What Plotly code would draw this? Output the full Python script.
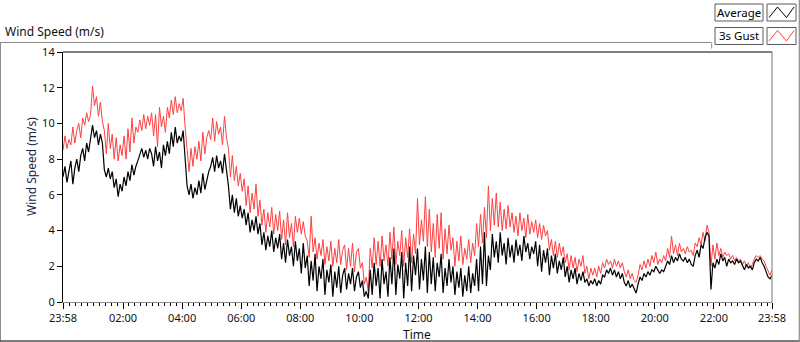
import plotly.graph_objects as go
import pandas as pd

# ---------------- data (one sample every 4 minutes, 23:58 -> 23:58) ----------------
start_time = "2024-01-01 23:58"
n_samples = 361

average = [
    7.0, 7.6, 6.7, 7.4, 7.9, 6.6, 7.5, 8.0, 7.3, 8.2, 8.6, 7.9, 8.9, 8.4, 9.1,
    9.9, 9.2, 9.6, 8.8, 9.4, 8.9, 7.4, 7.0, 7.5, 6.9, 7.3, 6.4, 6.9, 5.9, 6.6,
    6.2, 7.0, 6.5, 7.3, 6.8, 7.7, 7.1, 7.6, 7.9, 8.2, 8.6, 8.1, 8.5, 8.0, 8.6,
    8.3, 7.6, 8.7, 7.9, 8.4, 7.5, 8.8, 8.2, 9.0, 8.3, 9.5, 8.7, 9.8, 8.9, 9.3,
    9.0, 9.6, 8.2, 6.5, 6.0, 6.6, 5.8, 6.4, 6.0, 6.8, 6.1, 7.2, 6.3, 6.9, 7.3,
    7.6, 8.1, 7.3, 8.2, 7.5, 7.9, 7.2, 8.3, 7.4, 6.5, 5.2, 6.0, 5.0, 5.8, 4.8,
    5.4, 4.7, 5.2, 4.3, 5.0, 3.9, 4.6, 4.0, 4.8, 3.8, 4.4, 3.2, 3.9, 2.9, 3.7,
    3.1, 4.0, 2.8, 3.6, 3.0, 3.8, 2.4, 3.3, 2.2, 3.5, 2.6, 3.1, 2.0, 3.4, 2.3,
    3.0, 1.6, 3.3, 1.9, 2.6, 0.9, 2.3, 1.2, 2.7, 0.6, 2.0, 1.3, 2.4, 0.4, 1.8,
    1.1, 2.1, 0.3, 1.7, 0.8, 2.0, 0.5, 1.5, 1.9, 0.7, 1.6, 1.0, 1.9, 0.6, 1.4,
    1.7, 0.8, 1.2, 0.3, 0.6, 0.2, 1.8, 0.4, 2.2, 0.9, 1.9, 0.2, 2.4, 1.0, 1.7,
    0.3, 2.5, 1.0, 3.0, 0.4, 2.1, 1.3, 2.8, 0.2, 2.2, 0.9, 3.1, 0.6, 2.6, 1.5,
    3.0, 0.7, 2.4, 1.2, 3.1, 0.5, 2.8, 1.0, 2.5, 0.6, 2.2, 1.4, 2.7, 0.5, 1.9,
    0.9, 2.4, 1.1, 2.0, 0.4, 1.7, 0.8, 1.9, 0.3, 1.5, 0.6, 2.0, 0.5, 1.6, 0.9,
    2.4, 0.6, 3.1, 1.0, 3.9, 0.9, 2.6, 1.8, 3.8, 2.5, 3.4, 2.2, 3.9, 2.6, 3.3,
    2.1, 3.6, 2.5, 3.2, 2.2, 3.5, 2.6, 3.2, 2.3, 3.7, 2.8, 3.3, 2.4, 3.1, 2.7,
    3.4, 2.0, 3.2, 1.7, 2.9, 2.2, 3.0, 1.5, 2.6, 1.9, 2.7, 1.6, 2.3, 1.8, 2.5,
    1.4, 2.0, 1.1, 1.8, 1.3, 1.9, 1.0, 1.6, 1.2, 1.7, 1.1, 1.3, 0.9, 1.2, 1.0,
    1.3, 0.9, 1.2, 1.0, 1.5, 1.4, 1.8, 1.6, 1.9, 1.5, 1.8, 1.4, 1.7, 1.3, 1.6,
    1.1, 0.9, 1.2, 0.8, 1.0, 0.7, 0.5, 1.0, 1.4, 1.2, 1.6, 1.4, 1.7, 1.5, 1.8,
    1.7, 2.0, 1.8, 1.6, 1.8, 1.7, 2.0, 2.3, 2.1, 2.6, 2.2, 2.5, 2.3, 2.7, 2.4,
    2.3, 2.5, 2.2, 2.4, 2.1, 2.0, 2.6, 2.9, 2.5, 3.2, 3.0, 3.6, 3.9, 3.7, 0.7,
    2.2, 1.9, 2.4, 2.1, 2.7, 2.3, 2.5, 2.0, 2.4, 2.2, 2.3, 2.1, 2.4, 2.2, 2.3,
    2.0, 1.8, 2.1, 1.9, 2.0, 1.8, 2.2, 2.4, 2.3, 2.5, 2.2, 2.0, 1.7, 1.4, 1.3,
    1.5,
]

gust = [
    8.5, 9.3, 8.6, 9.1, 8.8, 9.8, 8.9, 9.6, 10.0, 9.2, 10.3, 9.9, 10.6, 10.1, 10.5,
    12.1, 11.0, 11.5, 10.4, 11.2, 10.1, 9.6, 8.3, 10.0, 8.6, 9.4, 8.0, 9.2, 7.9, 8.8,
    8.2, 9.3, 8.0, 9.7, 8.4, 10.3, 8.9, 9.8, 9.5, 10.2, 9.6, 10.5, 9.7, 10.4, 9.9,
    10.6, 9.3, 10.5, 8.7, 10.9, 9.8, 10.4, 9.5, 10.9, 10.3, 11.3, 10.5, 11.5, 10.6, 11.1,
    10.7, 11.4, 9.8, 8.4, 7.3, 8.6, 7.6, 8.7, 8.0, 9.0, 7.9, 9.5, 8.3, 9.2, 9.6,
    9.1, 10.3, 9.0, 10.1, 9.4, 9.8, 8.8, 10.4, 9.2, 8.6, 7.0, 8.2, 6.8, 7.6, 6.5,
    7.2, 6.2, 6.9, 5.4, 6.5, 5.0, 6.1, 5.2, 6.6, 4.8, 5.7, 4.3, 5.2, 3.9, 5.0,
    4.2, 5.3, 3.8, 4.9, 4.0, 5.1, 3.5, 4.6, 3.2, 5.0, 3.6, 4.4, 3.1, 4.8, 3.9,
    4.7, 3.8, 4.5, 3.7, 3.4, 2.5, 4.8, 2.8, 3.6, 2.4, 3.3, 2.6, 3.5, 2.1, 3.1,
    2.3, 3.4, 2.0, 3.0, 2.2, 3.5, 2.1, 2.9, 3.2, 1.8, 3.0, 2.0, 3.3, 1.7, 2.8,
    3.0, 1.9, 2.2, 1.0, 1.4, 0.6, 3.0, 1.9, 3.6, 2.1, 3.4, 2.0, 3.7, 2.3, 3.2,
    2.0, 3.9, 2.4, 4.2, 2.1, 3.4, 2.6, 4.0, 2.0, 3.6, 2.5, 4.1, 2.2, 3.8, 2.7,
    5.8, 3.2, 4.6, 3.4, 5.9, 3.1, 5.2, 2.8, 4.4, 2.5, 4.9, 3.0, 5.0, 2.4, 4.1,
    2.7, 4.3, 2.9, 3.6, 2.0, 3.4, 2.3, 3.7, 2.1, 3.0, 2.4, 3.5, 2.2, 3.3, 2.6,
    4.4, 3.1, 4.9, 3.3, 5.3, 3.6, 6.5, 4.0, 5.8, 4.3, 6.1, 4.2, 5.6, 4.0, 5.2,
    4.1, 5.4, 4.2, 5.0, 3.9, 4.8, 3.7, 5.0, 4.0, 4.7, 3.6, 4.9, 3.8, 4.5, 3.9,
    4.6, 3.6, 4.4, 3.5, 4.3, 3.7, 4.0, 2.9, 3.5, 2.6, 3.4, 2.5, 3.3, 2.6, 3.1,
    2.2, 2.7, 1.8, 2.6, 1.9, 2.5, 1.7, 2.4, 2.0, 2.6, 1.6, 2.0, 1.3, 1.9, 1.5,
    1.9, 1.4, 2.0, 1.6, 2.2, 1.9, 2.4, 2.1, 2.3, 1.9, 2.4, 2.0, 2.3, 1.9, 2.2,
    1.7, 1.4, 1.8, 1.3, 1.6, 1.2, 1.1, 1.5, 2.1, 1.8, 2.3, 1.9, 2.4, 2.0, 2.6,
    2.2, 2.8, 2.1, 2.4, 2.2, 2.6, 2.3, 3.0, 2.5, 3.7, 2.7, 3.2, 2.6, 3.3, 2.8,
    3.0, 2.7, 3.1, 2.8, 2.9, 2.6, 3.3, 3.1, 3.6, 3.2, 3.9, 3.4, 4.3, 3.9, 2.0,
    3.2, 2.4, 3.3, 2.6, 3.0, 2.5, 2.8, 2.6, 2.7, 2.4, 2.6, 2.3, 2.5, 2.3, 2.4,
    2.1, 2.3, 2.0, 2.2, 1.9, 2.1, 2.4, 2.6, 2.5, 2.6, 2.4, 2.3, 2.0, 1.7, 1.5,
    1.8,
]

tick_times = [
    "2024-01-01 23:58", "2024-01-02 02:00", "2024-01-02 04:00", "2024-01-02 06:00",
    "2024-01-02 08:00", "2024-01-02 10:00", "2024-01-02 12:00", "2024-01-02 14:00",
    "2024-01-02 16:00", "2024-01-02 18:00", "2024-01-02 20:00", "2024-01-02 22:00",
    "2024-01-02 23:58",
]
tick_labels = ["23:58", "02:00", "04:00", "06:00", "08:00", "10:00", "12:00",
               "14:00", "16:00", "18:00", "20:00", "22:00", "23:58"]
y_ticks = [0, 2, 4, 6, 8, 10, 12, 14]

series_names = ["Average", "3s Gust"]
series_colors = ["#000000", "#ff4040"]

times = pd.date_range(start_time, periods=n_samples, freq="4min")

# ---------------- figure ----------------
W, H = 800, 342
ML, MR, MT, MB = 63, 28, 52, 40
PW, PH = W - ML - MR, H - MT - MB


def fx(px):
    return (px - ML) / PW


def fy(py):
    return (H - MB - py) / PH


FONT = "Noto Sans, Open Sans, DejaVu Sans, sans-serif"
TXT = "#111111"

fig = go.Figure()
fig.add_trace(go.Scatter(x=times, y=gust, mode="lines", name=series_names[1],
                         line=dict(color=series_colors[1], width=1)))
fig.add_trace(go.Scatter(x=times, y=average, mode="lines", name=series_names[0],
                         line=dict(color=series_colors[0], width=1.2)))

GRAY = "#8c8c8c"
shapes = []
# plot-area border: black top/left, gray right/bottom
shapes.append(dict(type="line", xref="paper", yref="paper", x0=0, x1=1, y0=1, y1=1,
                   line=dict(color="black", width=1.2)))
shapes.append(dict(type="line", xref="paper", yref="paper", x0=1, x1=1, y0=0, y1=1,
                   line=dict(color=GRAY, width=1.2)))
# outer frame
shapes.append(dict(type="line", xref="paper", yref="paper", x0=fx(0), x1=fx(711),
                   y0=fy(42.5), y1=fy(42.5), line=dict(color=GRAY, width=1)))
shapes.append(dict(type="line", xref="paper", yref="paper", x0=fx(0.5), x1=fx(0.5),
                   y0=fy(42.5), y1=fy(342), line=dict(color=GRAY, width=1)))
shapes.append(dict(type="line", xref="paper", yref="paper", x0=fx(0), x1=fx(800),
                   y0=fy(341), y1=fy(341), line=dict(color="#505050", width=1.5)))
shapes.append(dict(type="line", xref="paper", yref="paper", x0=fx(799.3), x1=fx(799.3),
                   y0=fy(0), y1=fy(342), line=dict(color=GRAY, width=1.2)))
shapes.append(dict(type="line", xref="paper", yref="paper", x0=fx(711.7), x1=fx(711.7),
                   y0=fy(42.5), y1=fy(48.5), line=dict(color=GRAY, width=1)))

# legend boxes
for row, (nm, col) in enumerate(zip(series_names, series_colors)):
    top = 4 + row * 23.5
    bot = top + 17
    shapes.append(dict(type="rect", xref="paper", yref="paper",
                       x0=fx(715), x1=fx(763), y0=fy(bot), y1=fy(top),
                       line=dict(color="#5a5a5a", width=1), fillcolor="white"))
    shapes.append(dict(type="rect", xref="paper", yref="paper",
                       x0=fx(767), x1=fx(796), y0=fy(bot), y1=fy(top),
                       line=dict(color="#5a5a5a", width=1), fillcolor="white"))
    pts = [(769, bot - 3.5), (777.5, top + 3), (786.5, bot - 3.5), (794, top + 3)]
    path = "M " + " L ".join(f"{fx(a):.5f},{fy(b):.5f}" for a, b in pts)
    shapes.append(dict(type="path", xref="paper", yref="paper", path=path,
                       line=dict(color=col, width=1)))

annotations = [
    dict(text="Wind Speed (m/s)", xref="paper", yref="paper", x=fx(3), y=fy(32),
         xanchor="left", yanchor="middle", showarrow=False,
         font=dict(family=FONT, size=12, color=TXT)),
    dict(text="Wind Speed (m/s)", xref="paper", yref="paper", x=fx(31), y=fy(167),
         xanchor="center", yanchor="middle", textangle=-90, showarrow=False,
         font=dict(family=FONT, size=12, color="#1c2448")),
    dict(text="Time", xref="paper", yref="paper", x=fx(417), y=fy(334),
         xanchor="center", yanchor="middle", showarrow=False,
         font=dict(family=FONT, size=12, color=TXT)),
]
for row, nm in enumerate(series_names):
    top = 4 + row * 23.5
    annotations.append(dict(text=nm, xref="paper", yref="paper", x=fx(739),
                            y=fy(top + 8.5), xanchor="center", yanchor="middle",
                            showarrow=False,
                            font=dict(family=FONT, size=11.5, color="black")))

fig.update_layout(
    width=W, height=H,
    margin=dict(l=ML, r=MR, t=MT, b=MB, pad=0),
    paper_bgcolor="white", plot_bgcolor="white",
    showlegend=False,
    shapes=shapes, annotations=annotations,
    xaxis=dict(
        type="date",
        range=[times[0], times[-1]],
        tickmode="array", tickvals=pd.to_datetime(tick_times), ticktext=tick_labels,
        ticks="outside", ticklen=6, tickwidth=1, tickcolor="black",
        showline=True, linecolor=GRAY, linewidth=1.2,
        showgrid=False, zeroline=False,
        tickfont=dict(family=FONT, size=11, color=TXT),
        minor=dict(ticks="outside", ticklen=3, tickwidth=1, tickcolor="black",
                   tick0="2024-01-02 02:00", dtick=12 * 60 * 1000, showgrid=False),
    ),
    yaxis=dict(
        range=[0, 14], tickmode="array", tickvals=y_ticks,
        ticks="outside", ticklen=5, tickwidth=1, tickcolor="black",
        showline=True, linecolor="black", linewidth=1.2,
        showgrid=False, zeroline=False,
        tickfont=dict(family=FONT, size=11, color=TXT),
    ),
)

fig.write_html(
    "out.html",
    config={"displayModeBar": False},
    post_script="document.body.style.margin='0';document.body.style.overflow='hidden';",
)
